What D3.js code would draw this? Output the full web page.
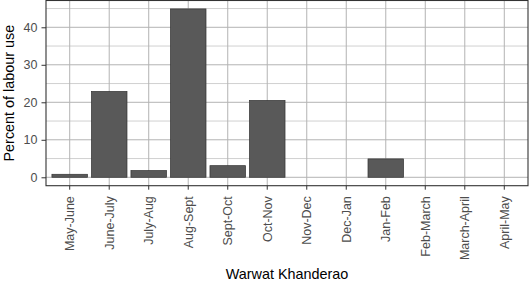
<!DOCTYPE html>
<html>
<head>
<meta charset="utf-8">
<script src="https://cdn.jsdelivr.net/npm/d3@7"></script>
<style>
  body { margin: 0; background: #fff; }
  svg { display: block; font-family: "Liberation Sans", Arial, sans-serif; }
</style>
</head>
<body>
<svg id="chart"></svg>
<script>
// data
const periods = ['May-June', 'June-July', 'July-Aug', 'Aug-Sept', 'Sept-Oct', 'Oct-Nov',
  'Nov-Dec', 'Dec-Jan', 'Jan-Feb', 'Feb-March', 'March-April', 'April-May'];
const labourUse = [0.8, 22.9, 1.8, 44.9, 3.1, 20.5, 0, 0, 4.9, 0, 0, 0];
const yTicks = [0, 10, 20, 30, 40];
const yMinor = [5, 15, 25, 35, 45];

const width = 530, height = 283;
const panel = { left: 46, right: 528, top: 0.5, bottom: 185.7 };

const svg = d3.select('#chart')
  .attr('width', width)
  .attr('height', height);

const yMax = d3.max(labourUse);
const y = d3.scaleLinear()
  .domain([-0.05 * yMax, yMax * 1.05])
  .range([panel.bottom, panel.top]);

const x = d3.scaleBand()
  .domain(periods)
  .range([panel.left, panel.right])
  .paddingInner(0.1)
  .paddingOuter(0.15);

const cx = (d) => x(d) + x.bandwidth() / 2;

// grid
svg.append('g').selectAll('line')
  .data(yMinor)
  .enter().append('line')
  .attr('x1', panel.left).attr('x2', panel.right)
  .attr('y1', (d) => y(d)).attr('y2', (d) => y(d))
  .attr('stroke', '#c4c4c4').attr('stroke-width', 0.8);

svg.append('g').selectAll('line')
  .data(yTicks)
  .enter().append('line')
  .attr('x1', panel.left).attr('x2', panel.right)
  .attr('y1', (d) => y(d)).attr('y2', (d) => y(d))
  .attr('stroke', '#b3b3b3').attr('stroke-width', 1);

svg.append('g').selectAll('line')
  .data(periods)
  .enter().append('line')
  .attr('x1', cx).attr('x2', cx)
  .attr('y1', panel.top).attr('y2', panel.bottom)
  .attr('stroke', '#b3b3b3').attr('stroke-width', 1);

// bars
svg.append('g').selectAll('rect')
  .data(periods)
  .enter().append('rect')
  .attr('x', (d) => x(d))
  .attr('width', x.bandwidth())
  .attr('y', (d, i) => y(labourUse[i]))
  .attr('height', (d, i) => y(0) - y(labourUse[i]))
  .attr('fill', '#595959')
  .attr('stroke', '#333')
  .attr('stroke-width', 0.7);

// panel border
svg.append('rect')
  .attr('x', panel.left).attr('y', panel.top)
  .attr('width', panel.right - panel.left)
  .attr('height', panel.bottom - panel.top)
  .attr('fill', 'none')
  .attr('stroke', '#333')
  .attr('stroke-width', 1.1);

// axes
const xAxis = d3.axisBottom(x).tickSize(4).tickPadding(4);
const yAxis = d3.axisLeft(y).tickValues(yTicks).tickSize(4.5).tickPadding(4);

const gx = svg.append('g')
  .attr('transform', `translate(0, ${panel.bottom})`)
  .call(xAxis);
gx.select('.domain').remove();
gx.selectAll('.tick line').attr('stroke', '#333');
gx.selectAll('.tick text')
  .attr('transform', 'rotate(-90)')
  .attr('text-anchor', 'end')
  .attr('x', -10.5)
  .attr('y', 0)
  .attr('dy', '0.35em')
  .attr('fill', '#4d4d4d')
  .style('font-size', '12.5px')
  .style('font-family', '"Liberation Sans", Arial, sans-serif');

const gy = svg.append('g')
  .attr('transform', `translate(${panel.left}, 0)`)
  .call(yAxis);
gy.select('.domain').remove();
gy.selectAll('.tick line').attr('stroke', '#333');
gy.selectAll('.tick text')
  .attr('fill', '#4d4d4d')
  .style('font-size', '12.5px')
  .style('font-family', '"Liberation Sans", Arial, sans-serif');

// axis titles
svg.append('text')
  .attr('text-anchor', 'middle')
  .attr('x', (panel.left + panel.right) / 2)
  .attr('y', 279)
  .style('font-size', '14.4px')
  .text('Warwat Khanderao');

svg.append('text')
  .attr('text-anchor', 'middle')
  .attr('transform', `translate(14, ${(panel.top + panel.bottom) / 2}) rotate(-90)`)
  .style('font-size', '14.4px')
  .text('Percent of labour use');
</script>
</body>
</html>
